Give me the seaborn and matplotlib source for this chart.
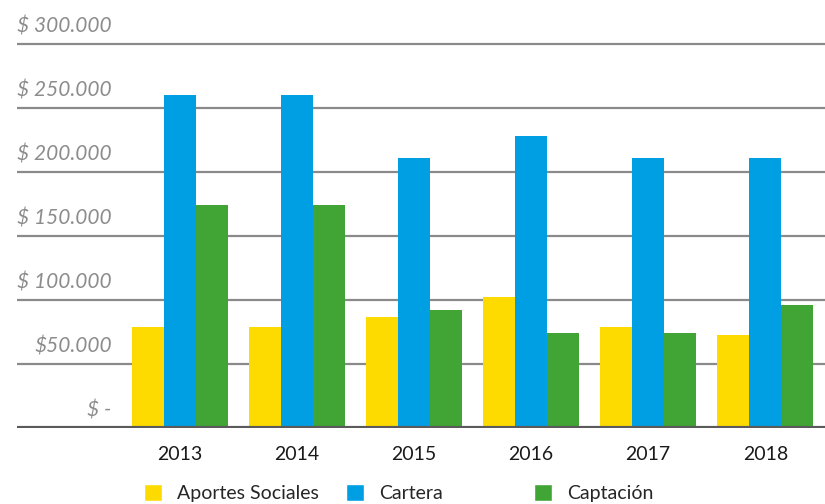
import matplotlib
matplotlib.use('Agg')
import matplotlib.pyplot as plt
import matplotlib.transforms as mtransforms
from matplotlib.patches import Patch
import pandas as pd
import seaborn as sns

# datos (miles de pesos)
years = ['2013', '2014', '2015', '2016', '2017', '2018']
aportes = [79000, 79000, 87000, 102000, 79000, 73000]
cartera = [260000, 260000, 211000, 228000, 211000, 211000]
captacion = [174000, 174000, 92000, 74000, 74000, 96000]
series = ['Aportes Sociales', 'Cartera', 'Captación']
colors = ['#FEDB00', '#009FE3', '#41A535']
ytick_vals = [0, 50000, 100000, 150000, 200000, 250000, 300000]
ytick_labels = ['$ -', '$50.000', '$ 100.000', '$ 150.000', '$ 200.000', '$ 250.000', '$ 300.000']

sns.set_style('white')
plt.rcParams['font.family'] = ['Lato', 'DejaVu Sans']

df = pd.DataFrame({
    'year': years * 3,
    'serie': [s for s in series for _ in years],
    'valor': aportes + cartera + captacion,
})

fig = plt.figure(figsize=(8.25, 5.04), dpi=100)
ax = fig.add_axes([17 / 825, 76 / 504, 808 / 825, 428 / 504])

# líneas de la cuadrícula
for v in ytick_vals[1:]:
    ax.axhline(v, color='#8a8a8a', lw=1.6, zorder=0)

sns.barplot(data=df, x='year', y='valor', hue='serie', palette=colors,
            width=0.82, saturation=1, linewidth=0, ax=ax, legend=False, zorder=2)

ax.set_xlim(-1.39, 5.51)
ax.set_ylim(0, 334400)
ax.axhline(0, color='#5a5a5a', lw=3, zorder=3)

for s in ax.spines.values():
    s.set_visible(False)
ax.set_yticks([])
ax.set_xlabel('')
ax.set_ylabel('')
ax.tick_params(axis='x', length=0, pad=13, labelsize=14, labelcolor='#1a1a1a')

# etiquetas del eje y sobre las líneas
trans = mtransforms.blended_transform_factory(ax.transData, ax.transData)
for v, lab in zip(ytick_vals, ytick_labels):
    ax.text(-0.58, v + 6000, lab, transform=trans, ha='right', va='bottom',
            fontsize=15, style='italic', color='#8c8c8c')

# leyenda: una entrada por posición
legend_x = [144 / 825, 346 / 825, 534 / 825]
for c, s, lx in zip(colors, series, legend_x):
    leg = fig.legend(handles=[Patch(facecolor=c, label=s)], loc='center left',
                     bbox_to_anchor=(lx, 0.022), frameon=False, fontsize=14,
                     handlelength=0.95, handleheight=0.95, handletextpad=0.75,
                     borderpad=0, borderaxespad=0)

plt.savefig('out.png', dpi=100)
